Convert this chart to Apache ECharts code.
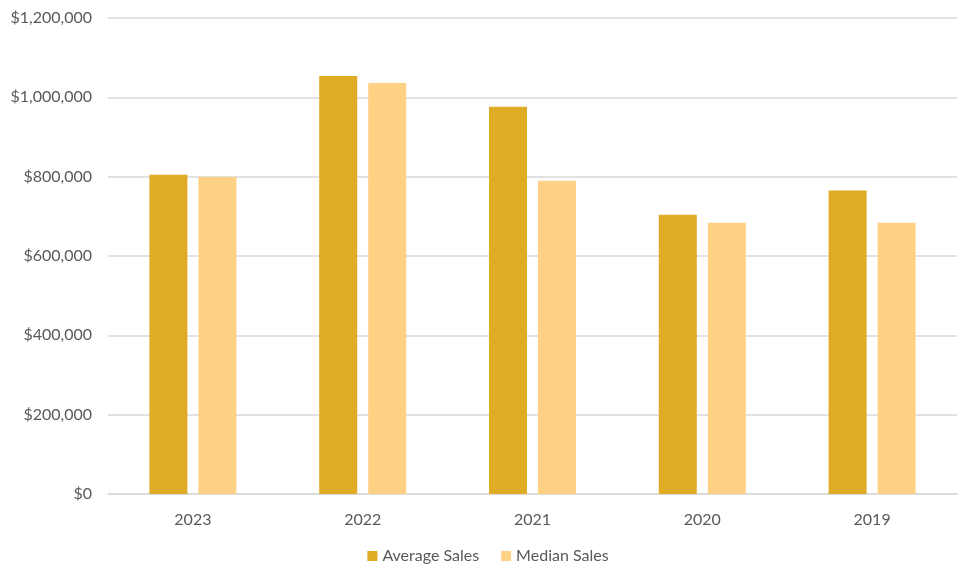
<!DOCTYPE html>
<html><head><meta charset="utf-8">
<script src="https://cdn.jsdelivr.net/npm/echarts@6/dist/echarts.min.js"></script>
<style>html,body{margin:0;padding:0;background:#fff}#c{width:976px;height:585px}</style>
</head><body><div id="c"></div>
<script>
const categories = ['2023', '2022', '2021', '2020', '2019'];
const averageSales = [805000, 1054000, 976000, 704000, 765000];
const medianSales = [799000, 1036000, 790000, 684000, 684000];
const seriesNames = ['Average Sales', 'Median Sales'];

const chart = echarts.init(document.getElementById('c'));
const font = 'Lato, "Open Sans", sans-serif';
chart.setOption({
  animation: false,
  textStyle: { fontFamily: font },
  grid: { left: 108, right: 19, top: 18, bottom: 91 },
  legend: {
    bottom: 16, left: 'center', itemWidth: 10, itemHeight: 10, itemGap: 22,
    icon: 'rect',
    textStyle: { fontSize: 16, color: '#595959', fontFamily: font },
    data: seriesNames
  },
  xAxis: {
    type: 'category', data: categories,
    axisLine: { lineStyle: { color: '#d9d9d9', width: 1.5 } },
    axisTick: { show: false },
    axisLabel: { fontSize: 16, color: '#595959', margin: 18 }
  },
  yAxis: {
    type: 'value', min: 0, max: 1200000, interval: 200000,
    axisLine: { show: false }, axisTick: { show: false },
    splitLine: { lineStyle: { color: '#d9d9d9', width: 1.5 } },
    axisLabel: {
      fontSize: 16, color: '#595959', margin: 16,
      formatter: v => '$' + v.toLocaleString('en-US')
    }
  },
  series: [
    { name: seriesNames[0], type: 'bar', data: averageSales, barWidth: 38, barGap: '29%', itemStyle: { color: '#E0AC26' } },
    { name: seriesNames[1], type: 'bar', data: medianSales, barWidth: 38, itemStyle: { color: '#FED185' } }
  ]
});
</script></body></html>
